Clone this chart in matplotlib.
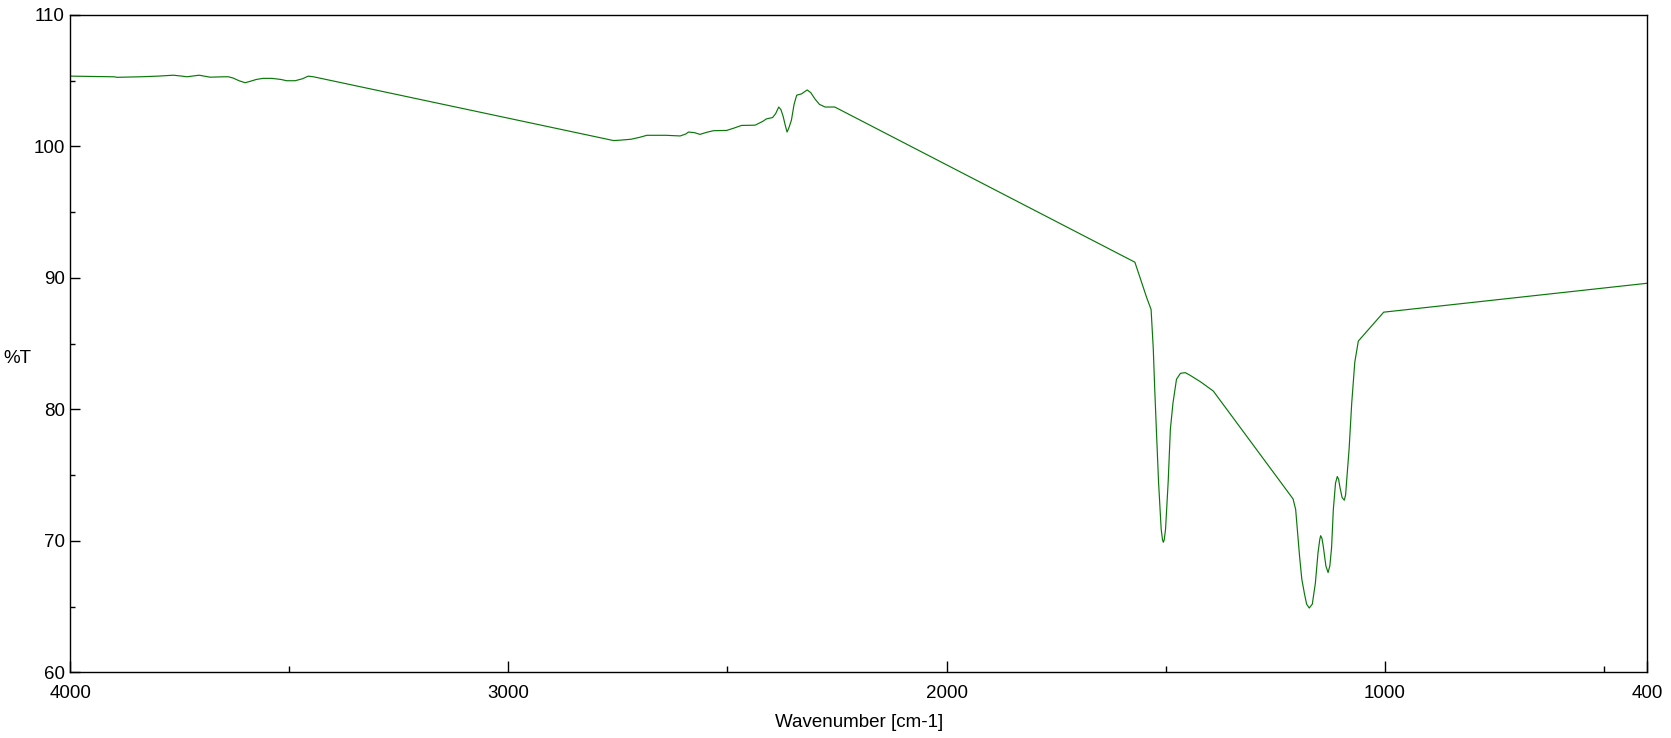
import matplotlib
matplotlib.use('Agg')
from matplotlib import pyplot
from matplotlib.ticker import MultipleLocator, FixedLocator

# FTIR spectrum (wavenumber in cm-1, %T)
wavenumber = [4000, 3900, 3894, 3840, 3800, 3765, 3745, 3734, 3706, 3681,
              3650, 3639, 3628, 3615, 3601, 3590, 3575, 3560, 3540, 3520,
              3506, 3487, 3470, 3457, 3445,
              2760, 2745, 2720, 2700, 2684, 2640, 2608, 2595, 2589, 2575,
              2563, 2545, 2532, 2502, 2485, 2468, 2437, 2420, 2411, 2397,
              2390, 2383, 2378, 2373, 2368, 2364, 2360, 2354, 2348, 2342,
              2331, 2318, 2310, 2300, 2290, 2277, 2255,
              1570, 1559, 1543, 1533, 1528, 1525, 1521, 1516, 1510, 1507,
              1505, 1503, 1500, 1494, 1489, 1483, 1475, 1466, 1455, 1444,
              1420, 1391,
              1209, 1203, 1199, 1194, 1189, 1183, 1178, 1172, 1165, 1158,
              1152, 1148, 1146, 1143, 1140, 1134, 1129, 1125, 1121, 1117,
              1112, 1108, 1105, 1102, 1097, 1092, 1089, 1087, 1081, 1075,
              1068, 1060, 1002, 400]
transmittance = [105.35, 105.3, 105.26, 105.3, 105.35, 105.42, 105.35, 105.3, 105.42, 105.27,
                 105.3, 105.3, 105.2, 105.0, 104.85, 104.95, 105.1, 105.18, 105.18, 105.1,
                 105.0, 105.0, 105.15, 105.35, 105.3,
                 100.45, 100.48, 100.55, 100.7, 100.85, 100.85, 100.8, 100.95, 101.1, 101.05,
                 100.92, 101.1, 101.2, 101.22, 101.4, 101.6, 101.62, 101.9, 102.1, 102.2,
                 102.5, 103.0, 102.8, 102.3, 101.6, 101.1, 101.4, 102.0, 103.2, 103.9,
                 104.0, 104.3, 104.1, 103.6, 103.2, 103.0, 103.0,
                 91.2, 90.1, 88.5, 87.6, 84.6, 81.8, 78.5, 74.5, 70.9, 70.1,
                 69.9, 70.1, 70.9, 74.5, 78.5, 80.5, 82.3, 82.75, 82.8, 82.6,
                 82.1, 81.4,
                 73.2, 72.4, 70.8, 68.8, 67.1, 66.0, 65.2, 64.9, 65.2, 66.8,
                 69.1, 70.1, 70.4, 70.2, 69.6, 68.1, 67.6, 68.1, 69.5, 72.4,
                 74.4, 74.9, 74.7, 74.1, 73.3, 73.1, 73.5, 74.4, 77.0, 80.5,
                 83.6, 85.2, 87.4, 89.6]

x_ticks = [4000, 3000, 2000, 1000, 400]
x_minor = [3500, 2500, 1500, 500]

pyplot.rcParams['font.family'] = ['Liberation Sans', 'DejaVu Sans']
pyplot.rcParams['font.size'] = 13.5

fig = pyplot.figure(figsize=(16.71, 7.38), dpi=100)
ax = fig.add_axes([0.0421, 0.0888, 0.9438, 0.8909])

ax.plot(wavenumber, transmittance, color='#087808', linewidth=0.85)

ax.set_xlim(4000, 400)
ax.set_ylim(60, 110)
ax.xaxis.set_major_locator(FixedLocator(x_ticks))
ax.xaxis.set_minor_locator(FixedLocator(x_minor))
ax.set_xticklabels([str(t) for t in x_ticks])
ax.yaxis.set_major_locator(MultipleLocator(10))
ax.yaxis.set_minor_locator(MultipleLocator(5))

ax.tick_params(axis='x', which='major', direction='in', length=8, width=1, pad=9)
ax.tick_params(axis='x', which='minor', direction='in', length=4.5, width=1)
ax.tick_params(axis='y', which='major', direction='in', length=7, width=1, pad=4)
ax.tick_params(axis='y', which='minor', direction='in', length=3.5, width=1)
for s in ax.spines.values():
    s.set_linewidth(1.0)

ax.set_xlabel('Wavenumber [cm-1]', labelpad=8.5)
fig.text(0.002, 0.514, '%T', ha='left', va='center', fontsize=13.5)

fig.savefig('out.png', dpi=100)
